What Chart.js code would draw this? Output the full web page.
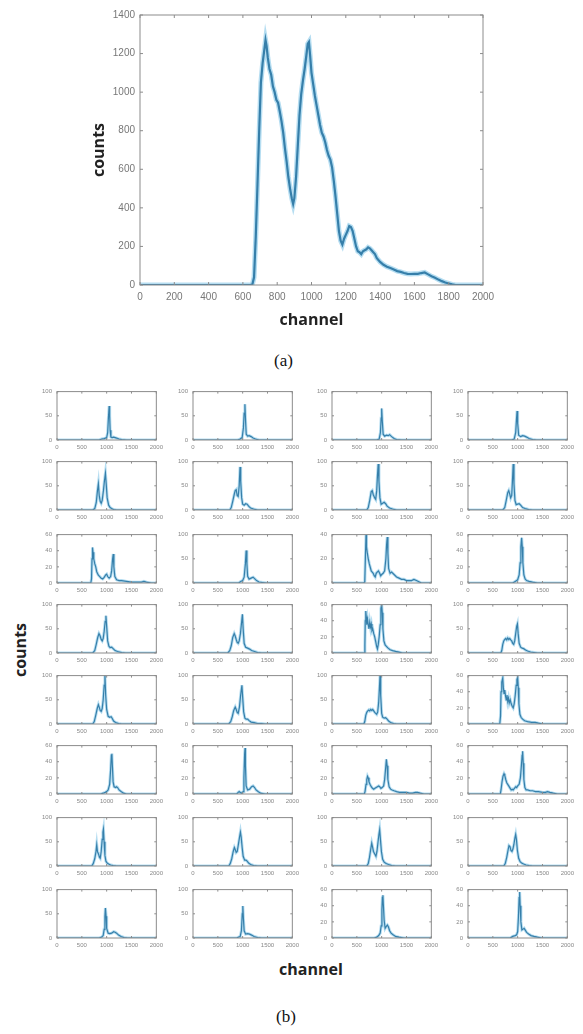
<!DOCTYPE html>
<html>
<head>
<meta charset="utf-8">
<script src="https://cdn.jsdelivr.net/npm/chart.js@4.4.0/dist/chart.umd.min.js"></script>
<style>
  body { margin: 0; background: #fff; width: 583px; height: 1034px; position: relative; overflow: hidden; }
  canvas { position: absolute; }
  .axlbl { position: absolute; font-family: "Open Sans", sans-serif; font-weight: 700; font-size: 16px; color: #222; white-space: nowrap; }
  .cap { position: absolute; font-family: "Liberation Serif", serif; font-size: 17px; color: #111; }
</style>
</head>
<body>
<canvas id="chartA" width="583" height="340" style="left:0;top:0"></canvas>
<div class="cap" style="left:274px;top:351px">(a)</div>
<div class="axlbl" style="left:-7px;top:639px;transform:rotate(-90deg)">counts</div>
<div class="axlbl" style="left:279px;top:958px">channel</div>
<div class="cap" style="left:276px;top:1007px">(b)</div>

<script>
// (a) summed spectrum
const channelsA = [0, 640, 655, 665, 675, 685, 695, 705, 715, 725, 732, 738, 745, 755, 765, 775, 785, 795, 805, 815,
  825, 835, 845, 855, 865, 875, 885, 893, 900, 910, 920, 930, 940, 950, 960, 970, 978, 985, 992, 1000,
  1010, 1020, 1030, 1040, 1050, 1060, 1070, 1080, 1090, 1100, 1110, 1120, 1130, 1140, 1150, 1160, 1170, 1180, 1190, 1200,
  1210, 1220, 1230, 1240, 1250, 1260, 1270, 1280, 1290, 1300, 1310, 1320, 1330, 1340, 1350, 1360, 1370, 1380, 1390, 1400,
  1420, 1440, 1460, 1480, 1500, 1520, 1540, 1560, 1580, 1600, 1620, 1640, 1660, 1680, 1700, 1720, 1740, 1760, 1780, 1800,
  1820, 1840, 2000];
const countsA = [0, 0, 2, 40, 250, 520, 800, 1050, 1150, 1220, 1270, 1240, 1180, 1120, 1090, 1030, 1000, 960, 945, 900,
  850, 790, 710, 640, 560, 500, 450, 420, 450, 560, 720, 880, 990, 1060, 1120, 1190, 1250, 1260, 1190, 1100,
  1040, 980, 930, 880, 830, 790, 770, 740, 700, 670, 650, 610, 540, 460, 370, 280, 230, 210, 240, 260,
  280, 305, 300, 280, 240, 200, 175, 170, 160, 175, 180, 185, 195, 190, 180, 170, 160, 140, 130, 120,
  105, 95, 88, 80, 72, 68, 62, 58, 57, 58, 58, 62, 65, 55, 45, 38, 28, 20, 13, 8,
  3, 0, 0];

// (b) 32 per-detector spectra, [channel, counts]
const r1c1 = [[0,0],[850,0],[900,2],[950,3],[1000,5],[1020,15],[1035,45],[1050,70],[1060,50],[1070,20],[1085,6],[1110,5],[1140,6],[1170,5],[1200,4],[1250,2],[1300,1],[1400,0],[2000,0]];
const r1c2 = [[0,0],[900,0],[950,2],[990,5],[1015,25],[1030,55],[1045,74],[1058,40],[1072,12],[1100,8],[1130,9],[1170,7],[1210,4],[1260,2],[1330,0],[2000,0]];
const r1c3 = [[0,0],[900,0],[950,2],[975,15],[990,45],[1000,65],[1012,40],[1030,12],[1060,8],[1100,10],[1130,9],[1160,11],[1200,7],[1250,3],[1300,1],[1400,0],[2000,0]];
const r1c4 = [[0,0],[880,0],[930,2],[960,15],[975,40],[988,60],[1000,35],[1020,10],[1060,7],[1100,9],[1140,8],[1180,6],[1230,3],[1300,1],[1380,0],[2000,0]];

const r2c1 = [[0,0],[720,0],[760,3],[790,15],[815,40],[833,54],[850,30],[870,18],[890,14],[910,20],[935,40],[955,60],[975,76],[990,55],[1010,25],[1040,10],[1070,5],[1100,3],[1140,1],[1200,0],[2000,0]];
const r2c2 = [[0,0],[740,0],[770,5],[800,18],[830,32],[850,40],[870,42],[890,30],[910,28],[930,50],[947,89],[960,60],[980,25],[1000,12],[1030,10],[1060,13],[1090,12],[1120,8],[1160,4],[1220,2],[1300,0],[2000,0]];
const r2c3 = [[0,0],[700,0],[730,5],[760,20],[790,38],[810,40],[830,32],[860,25],[880,22],[900,40],[915,70],[930,95],[945,60],[965,25],[990,12],[1020,14],[1050,16],[1080,13],[1110,8],[1160,4],[1220,2],[1300,0],[2000,0]];
const r2c4 = [[0,0],[700,0],[740,5],[770,20],[800,36],[820,40],[840,33],[860,25],[880,30],[895,60],[910,95],[925,55],[945,20],[970,11],[1000,12],[1030,13],[1060,10],[1100,5],[1150,3],[1220,1],[1300,0],[2000,0]];

const r3c1 = [[0,0],[680,0],[695,5],[705,30],[715,44],[725,38],[740,30],[760,24],[780,20],[800,14],[830,10],[860,8],[890,6],[920,5],[950,7],[980,10],[1000,11],[1020,8],[1050,6],[1080,8],[1100,15],[1120,30],[1133,36],[1145,20],[1165,8],[1200,4],[1250,3],[1300,3],[1400,2],[1500,1],[1600,1],[1700,1],[1750,2],[1800,1],[1900,0],[2000,0]];
const r3c2 = [[0,0],[920,0],[960,3],[1000,5],[1030,12],[1055,40],[1070,67],[1085,40],[1100,14],[1130,8],[1170,10],[1210,12],[1240,9],[1280,5],[1330,2],[1400,1],[1480,0],[2000,0]];
const r3c3 = [[0,0],[640,0],[660,1],[672,20],[685,40],[695,30],[710,25],[730,20],[750,16],[770,13],[790,10],[810,9],[830,8],[850,6],[870,5],[890,8],[910,9],[935,10],[960,8],[980,6],[1000,7],[1030,8],[1060,10],[1085,20],[1100,32],[1113,38],[1125,25],[1140,12],[1170,8],[1200,9],[1250,7],[1300,5],[1350,4],[1400,3],[1450,3],[1500,2],[1560,2],[1600,2],[1650,3],[1700,2],[1750,1],[1800,0],[2000,0]];
const r3c4 = [[0,0],[900,0],[950,2],[1000,4],[1030,10],[1050,25],[1065,45],[1080,56],[1092,45],[1105,25],[1125,10],[1150,5],[1180,3],[1230,2],[1300,1],[1400,0],[2000,0]];

const r4c1 = [[0,0],[720,0],[760,5],[790,18],[820,32],[845,40],[865,36],[890,28],[910,25],[930,30],[950,45],[970,65],[985,77],[1000,55],[1020,25],[1045,14],[1070,11],[1100,12],[1130,9],[1170,5],[1220,3],[1300,1],[1380,0],[2000,0]];
const r4c2 = [[0,0],[700,0],[740,5],[770,15],[800,32],[830,40],[850,35],[870,28],[890,22],[910,20],[930,25],[955,40],[975,60],[995,80],[1010,50],[1030,20],[1060,12],[1100,10],[1140,8],[1180,5],[1240,3],[1300,1],[1380,0],[2000,0]];
const r4c3 = [[0,0],[650,0],[662,10],[670,40],[680,52],[690,45],[700,35],[715,42],[730,35],[745,30],[760,38],[775,32],[790,36],[805,28],[820,30],[840,24],[860,20],[880,14],[900,8],[915,5],[930,10],[950,20],[970,35],[985,55],[1000,60],[1012,50],[1025,30],[1045,15],[1070,10],[1100,8],[1130,6],[1170,4],[1220,3],[1280,2],[1350,1],[1420,0],[2000,0]];
const r4c4 = [[0,0],[660,0],[680,5],[700,18],[720,25],[740,28],[760,30],[780,27],[800,31],[820,28],[840,30],[860,27],[880,25],[900,20],[920,18],[940,25],[960,40],[980,55],[995,60],[1010,40],[1030,20],[1060,12],[1090,10],[1120,9],[1160,6],[1200,4],[1260,2],[1330,1],[1400,0],[2000,0]];

const r5c1 = [[0,0],[720,0],[750,5],[780,18],[810,32],[833,40],[850,35],[870,28],[890,26],[910,32],[930,50],[950,80],[965,102],[980,60],[1000,30],[1030,16],[1060,14],[1090,15],[1110,12],[1140,6],[1180,3],[1240,1],[1300,0],[2000,0]];
const r5c2 = [[0,0],[720,0],[760,5],[790,15],[820,28],[850,35],[870,30],[890,24],[910,22],[935,35],[960,60],[985,80],[1000,55],[1020,25],[1045,12],[1070,10],[1100,10],[1130,7],[1170,4],[1230,3],[1300,1],[1380,1],[1450,0],[2000,0]];
const r5c3 = [[0,0],[640,0],[660,5],[680,18],[700,24],[720,27],[740,29],[760,27],[780,30],[800,28],[820,30],[840,27],[860,24],[880,22],[900,20],[920,25],[940,45],[955,75],[967,100],[980,60],[1000,22],[1020,14],[1050,12],[1080,13],[1110,10],[1140,6],[1180,3],[1240,1],[1300,0],[2000,0]];
const r5c4 = [[0,0],[640,0],[655,10],[665,40],[680,52],[700,57],[712,45],[725,38],[740,42],[755,35],[770,30],[785,36],[800,28],[815,32],[830,26],[850,30],[870,25],[890,22],[910,20],[930,25],[950,35],[970,48],[985,55],[1000,58],[1012,45],[1025,25],[1045,12],[1070,8],[1100,6],[1140,4],[1200,3],[1280,2],[1350,2],[1420,1],[1500,0],[2000,0]];

const r6c1 = [[0,0],[880,0],[930,1],[970,2],[1000,3],[1030,5],[1060,12],[1080,30],[1095,48],[1105,50],[1115,35],[1130,15],[1150,9],[1180,8],[1200,9],[1220,8],[1250,5],[1290,3],[1340,1],[1400,0],[2000,0]];
const r6c2 = [[0,0],[880,0],[910,2],[930,3],[950,2],[980,1],[1010,3],[1025,20],[1040,50],[1048,57],[1056,35],[1070,10],[1100,5],[1140,6],[1180,9],[1210,10],[1240,8],[1270,5],[1310,3],[1360,1],[1450,0],[2000,0]];
const r6c3 = [[0,0],[650,0],[665,3],[685,12],[700,18],[715,22],[730,20],[745,15],[765,12],[790,9],[815,7],[840,6],[865,7],[890,8],[915,9],[940,10],[960,9],[985,7],[1010,8],[1040,10],[1060,18],[1080,32],[1095,43],[1110,35],[1125,18],[1150,9],[1180,6],[1210,5],[1250,4],[1300,3],[1360,2],[1420,2],[1500,2],[1560,1],[1620,1],[1680,2],[1720,2],[1780,1],[1850,0],[2000,0]];
const r6c4 = [[0,0],[650,0],[665,5],[685,15],[705,22],[725,25],[740,23],[760,18],[780,14],[800,12],[820,10],[850,7],[870,5],[890,6],[910,5],[935,7],[960,9],[980,8],[1000,10],[1030,12],[1055,20],[1075,35],[1090,48],[1100,53],[1112,38],[1125,18],[1145,8],[1170,5],[1200,5],[1250,4],[1300,4],[1360,3],[1420,3],[1500,2],[1560,2],[1600,3],[1650,2],[1720,1],[1800,0],[2000,0]];

const r7c1 = [[0,0],[700,0],[730,5],[760,15],[785,30],[800,44],[815,30],[835,25],[855,18],[870,16],[890,30],[910,55],[925,70],[935,76],[948,50],[965,22],[985,10],[1010,6],[1040,4],[1080,2],[1130,1],[1200,0],[2000,0]];
const r7c2 = [[0,0],[720,0],[750,5],[780,15],[810,30],[833,38],[850,34],[870,28],[890,30],[910,42],[935,58],[955,70],[970,60],[990,38],[1010,20],[1040,12],[1067,12],[1090,10],[1120,6],[1160,3],[1220,1],[1300,0],[2000,0]];
const r7c3 = [[0,0],[700,0],[730,5],[755,18],[780,35],[800,47],[815,40],[835,30],[860,25],[885,20],[905,30],[925,48],[945,65],[960,75],[975,55],[995,30],[1020,14],[1050,8],[1090,5],[1140,3],[1200,1],[1280,0],[2000,0]];
const r7c4 = [[0,0],[720,0],[750,5],[780,18],[805,32],[825,42],[845,40],[865,32],[885,30],[905,35],[925,45],[945,58],[960,65],[975,55],[995,32],[1020,16],[1050,9],[1080,6],[1120,4],[1170,2],[1230,1],[1300,0],[2000,0]];

const r8c1 = [[0,0],[850,0],[900,2],[930,5],[950,18],[965,45],[975,62],[988,45],[1000,20],[1030,10],[1060,9],[1100,10],[1140,13],[1170,12],[1200,10],[1240,6],[1290,3],[1350,1],[1420,0],[2000,0]];
const r8c2 = [[0,0],[880,0],[920,2],[950,3],[975,15],[992,50],[1003,66],[1015,40],[1030,15],[1060,8],[1100,9],[1140,8],[1180,6],[1230,3],[1300,1],[1380,0],[2000,0]];
const r8c3 = [[0,0],[850,0],[900,1],[940,3],[970,6],[990,15],[1005,35],[1015,50],[1025,53],[1035,40],[1050,22],[1070,12],[1090,14],[1115,16],[1135,14],[1160,9],[1190,6],[1230,4],[1280,2],[1350,1],[1450,0],[2000,0]];
const r8c4 = [[0,0],[850,0],[900,2],[950,3],[980,4],[1000,8],[1015,25],[1030,50],[1040,57],[1050,40],[1065,20],[1085,10],[1110,11],[1130,12],[1150,10],[1180,7],[1220,5],[1270,3],[1330,2],[1400,1],[1480,0],[2000,0]];

const panelData = [r1c1, r1c2, r1c3, r1c4, r2c1, r2c2, r2c3, r2c4, r3c1, r3c2, r3c3, r3c4, r4c1, r4c2, r4c3, r4c4,
  r5c1, r5c2, r5c3, r5c4, r6c1, r6c2, r6c3, r6c4, r7c1, r7c2, r7c3, r7c4, r8c1, r8c2, r8c3, r8c4];
// y-axis top of each panel
const panelYMax = [100, 100, 100, 100,  100, 100, 100, 100,  60, 100, 40, 60,  100, 100, 60, 100,
  100, 100, 100, 60,  60, 60, 60, 60,  100, 100, 100, 100,  100, 100, 60, 60];
const channelTicks = [0, 500, 1000, 1500, 2000];

// grid placement (plot area left / top, px)
const colLeft = [57, 193, 332, 468];
const rowTop = [389, 459, 532, 602, 673, 743, 815, 887];

Chart.defaults.font.family = '"Liberation Sans", Arial, sans-serif';

const LINE_DARK = '#19557f';
const LINE_HALO = 'rgba(90, 180, 225, 0.45)';
const FRAME = '#8c8c8c';
const plainNum = v => String(v);   // no thousands separator

// matlab style box with inward ticks
const framePlugin = {
  id: 'frame',
  afterDraw(chart, args, opts) {
    const { ctx, chartArea: a, scales } = chart;
    const len = opts.tick;
    ctx.save();
    ctx.strokeStyle = FRAME;
    ctx.lineWidth = 1;
    ctx.strokeRect(a.left, a.top, a.right - a.left, a.bottom - a.top);
    ctx.beginPath();
    for (const t of scales.x.ticks) {
      const px = scales.x.getPixelForValue(t.value);
      ctx.moveTo(px, a.bottom); ctx.lineTo(px, a.bottom - len);
      ctx.moveTo(px, a.top); ctx.lineTo(px, a.top + len);
    }
    for (const t of scales.y.ticks) {
      const py = scales.y.getPixelForValue(t.value);
      ctx.moveTo(a.left, py); ctx.lineTo(a.left + len, py);
      ctx.moveTo(a.right, py); ctx.lineTo(a.right - len, py);
    }
    ctx.stroke();
    ctx.restore();
  }
};

function toPoints(xs, ys) {
  return xs.map((x, i) => ({ x: x, y: ys[i] }));
}

// ---- (a)
const ptsA = toPoints(channelsA, countsA);
new Chart(document.getElementById('chartA'), {
  type: 'line',
  data: {
    datasets: [
      { data: ptsA, borderColor: LINE_HALO, borderWidth: 5 },
      { data: ptsA, borderColor: LINE_DARK, borderWidth: 2.2 }
    ]
  },
  options: {
    responsive: false,
    animation: false,
    layout: { padding: { left: 80, right: 100, top: 15, bottom: 0 } },
    elements: { point: { radius: 0 }, line: { tension: 0 } },
    plugins: { legend: { display: false }, tooltip: { enabled: false }, frame: { tick: 3 } },
    scales: {
      x: {
        type: 'linear', min: 0, max: 2000,
        grid: { display: false, drawTicks: false }, border: { display: false },
        ticks: { stepSize: 200, color: '#777', font: { size: 10 }, padding: 6, maxRotation: 0, callback: plainNum },
        title: { display: true, text: 'channel', color: '#222', padding: { top: 0, bottom: 10 },
          font: { family: '"Open Sans", sans-serif', size: 16, weight: 'bold' } },
        afterFit(s) { s.height = 55; }
      },
      y: {
        min: 0, max: 1400,
        grid: { display: false, drawTicks: false }, border: { display: false },
        ticks: { stepSize: 200, color: '#777', font: { size: 10 }, padding: 5, callback: plainNum },
        title: { display: true, text: 'counts', color: '#222', padding: { top: 10, bottom: 0 },
          font: { family: '"Open Sans", sans-serif', size: 16, weight: 'bold' } },
        afterFit(s) { s.width = 60; }
      }
    }
  },
  plugins: [framePlugin]
});

// ---- (b)
const Y_AXIS_W = 24, X_AXIS_H = 14, PAD_TOP = 6, PAD_RIGHT = 10, PLOT_W = 100, PLOT_H = 51;

panelData.forEach((pts, i) => {
  const col = i % 4, row = Math.floor(i / 4);
  const cv = document.createElement('canvas');
  cv.width = Y_AXIS_W + PLOT_W + PAD_RIGHT;
  cv.height = PAD_TOP + PLOT_H + X_AXIS_H;
  cv.style.left = (colLeft[col] - Y_AXIS_W) + 'px';
  cv.style.top = (rowTop[row] - PAD_TOP) + 'px';
  document.body.appendChild(cv);

  const ymax = panelYMax[i];
  const data = toPoints(pts.map(p => p[0]), pts.map(p => p[1]));
  new Chart(cv, {
    type: 'line',
    data: {
      datasets: [
        { data: data, borderColor: LINE_HALO, borderWidth: 3 },
        { data: data, borderColor: LINE_DARK, borderWidth: 1.2 }
      ]
    },
    options: {
      responsive: false,
      animation: false,
      layout: { padding: { left: 0, right: PAD_RIGHT, top: PAD_TOP, bottom: 0 } },
      elements: { point: { radius: 0 }, line: { tension: 0 } },
      plugins: { legend: { display: false }, tooltip: { enabled: false }, frame: { tick: 2 } },
      scales: {
        x: {
          type: 'linear', min: 0, max: 2000,
          grid: { display: false, drawTicks: false }, border: { display: false },
          afterBuildTicks(s) { s.ticks = channelTicks.map(v => ({ value: v })); },
          ticks: { color: '#888', font: { size: 6 }, padding: 4, maxRotation: 0, autoSkip: false, callback: plainNum },
          afterFit(s) { s.height = X_AXIS_H; }
        },
        y: {
          min: 0, max: ymax,
          grid: { display: false, drawTicks: false }, border: { display: false },
          ticks: { stepSize: ymax === 100 ? 50 : 20, color: '#888', font: { size: 6 }, padding: 5, callback: plainNum },
          afterFit(s) { s.width = Y_AXIS_W; }
        }
      }
    },
    plugins: [framePlugin]
  });
});
</script>
</body>
</html>
